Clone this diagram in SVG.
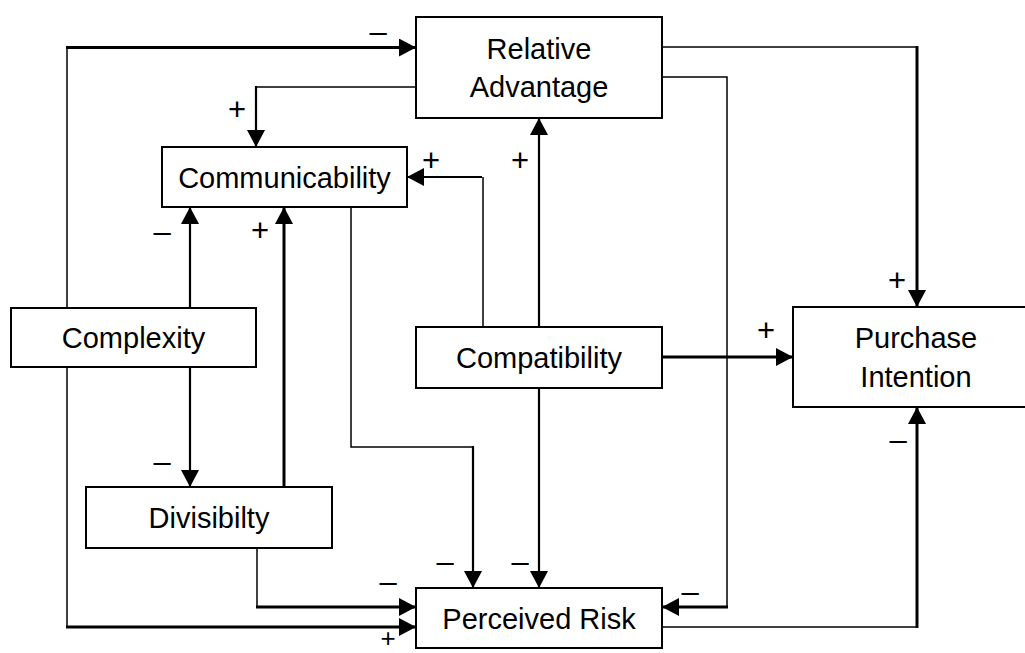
<svg xmlns="http://www.w3.org/2000/svg" width="1025" height="653" viewBox="0 0 1025 653">
<defs>
<style>
.box{fill:#fff;stroke:#000;stroke-width:2}
.t{font-family:"Liberation Sans",Arial,sans-serif;font-size:29px;fill:#000;text-anchor:middle}
.lbl{font-family:"Liberation Sans",Arial,sans-serif;font-size:31px;fill:#000;text-anchor:middle}
.thin{fill:none;stroke:#000;stroke-width:1.5}
.mid{fill:none;stroke:#000;stroke-width:2.2}
.thick{fill:none;stroke:#000;stroke-width:3}
</style>
<marker id="arr" markerUnits="userSpaceOnUse" markerWidth="18" markerHeight="18" refX="17" refY="9" orient="auto" viewBox="0 0 18 18">
<path d="M0,0 L17,9 L0,18 Z" fill="#000"/>
</marker>
</defs>
<rect width="1025" height="653" fill="#fff"/>
<g id="connectors">
<path class="thin" d="M67,308 V47.5"/>
<path class="thick" d="M66,47.5 H416" marker-end="url(#arr)"/>
<path class="thin" d="M416,87 H256"/>
<path class="mid" d="M256,86 V147" marker-end="url(#arr)"/>
<path class="thin" d="M483,327 V177"/>
<path class="mid" d="M482,177 H407" marker-end="url(#arr)"/>
<path class="mid" d="M539,327 V118" marker-end="url(#arr)"/>
<path class="mid" d="M190,308 V207" marker-end="url(#arr)"/>
<path class="thick" d="M284,487 V207" marker-end="url(#arr)"/>
<path class="mid" d="M190,367 V487" marker-end="url(#arr)"/>
<path class="thin" d="M351,207 V447 H473"/>
<path class="mid" d="M473,446 V588" marker-end="url(#arr)"/>
<path class="mid" d="M539,388 V588" marker-end="url(#arr)"/>
<path class="thick" d="M662,357 H793" marker-end="url(#arr)"/>
<path class="thin" d="M662,47 H917"/>
<path class="thick" d="M917,46 V307" marker-end="url(#arr)"/>
<path class="thin" d="M662,77 H727 V607"/>
<path class="thick" d="M728,607 H662" marker-end="url(#arr)"/>
<path class="thin" d="M662,627 H917"/>
<path class="thick" d="M917,628 V407" marker-end="url(#arr)"/>
<path class="thin" d="M257,548 V607"/>
<path class="thick" d="M256,607 H416" marker-end="url(#arr)"/>
<path class="thin" d="M67,367 V627"/>
<path class="thick" d="M66,627 H416" marker-end="url(#arr)"/>
</g>
<g id="labels">
<text class="lbl" x="378" y="42">–</text>
<text class="lbl" x="237" y="120">+</text>
<text class="lbl" x="431" y="171">+</text>
<text class="lbl" x="520" y="171">+</text>
<text class="lbl" x="162" y="242">–</text>
<text class="lbl" x="260" y="241">+</text>
<text class="lbl" x="162" y="472">–</text>
<text class="lbl" x="445" y="572">–</text>
<text class="lbl" x="520" y="572">–</text>
<text class="lbl" x="388" y="592">–</text>
<text class="lbl" x="388" y="647" style="font-size:26px">+</text>
<text class="lbl" x="690" y="602">–</text>
<text class="lbl" x="897" y="291">+</text>
<text class="lbl" x="766" y="341">+</text>
<text class="lbl" x="898" y="450">–</text>
</g>
<g id="relative-advantage">
<rect class="box" x="416" y="17" width="246" height="101"/>
<text class="t" x="539" y="59">Relative</text>
<text class="t" x="539" y="97">Advantage</text>
</g>
<g id="communicability">
<rect class="box" x="162" y="147" width="245" height="60"/>
<text class="t" x="284.5" y="188">Communicability</text>
</g>
<g id="complexity">
<rect class="box" x="11" y="308" width="245" height="59"/>
<text class="t" x="133.5" y="348">Complexity</text>
</g>
<g id="compatibility">
<rect class="box" x="416" y="327" width="246" height="61"/>
<text class="t" x="539" y="368">Compatibility</text>
</g>
<g id="purchase-intention">
<rect class="box" x="793" y="307" width="246" height="100"/>
<text class="t" x="916" y="348">Purchase</text>
<text class="t" x="916" y="387">Intention</text>
</g>
<g id="divisibility">
<rect class="box" x="86" y="487" width="246" height="61"/>
<text class="t" x="209" y="528">Divisibilty</text>
</g>
<g id="perceived-risk">
<rect class="box" x="416" y="588" width="246" height="60"/>
<text class="t" x="539" y="629">Perceived Risk</text>
</g>
</svg>
